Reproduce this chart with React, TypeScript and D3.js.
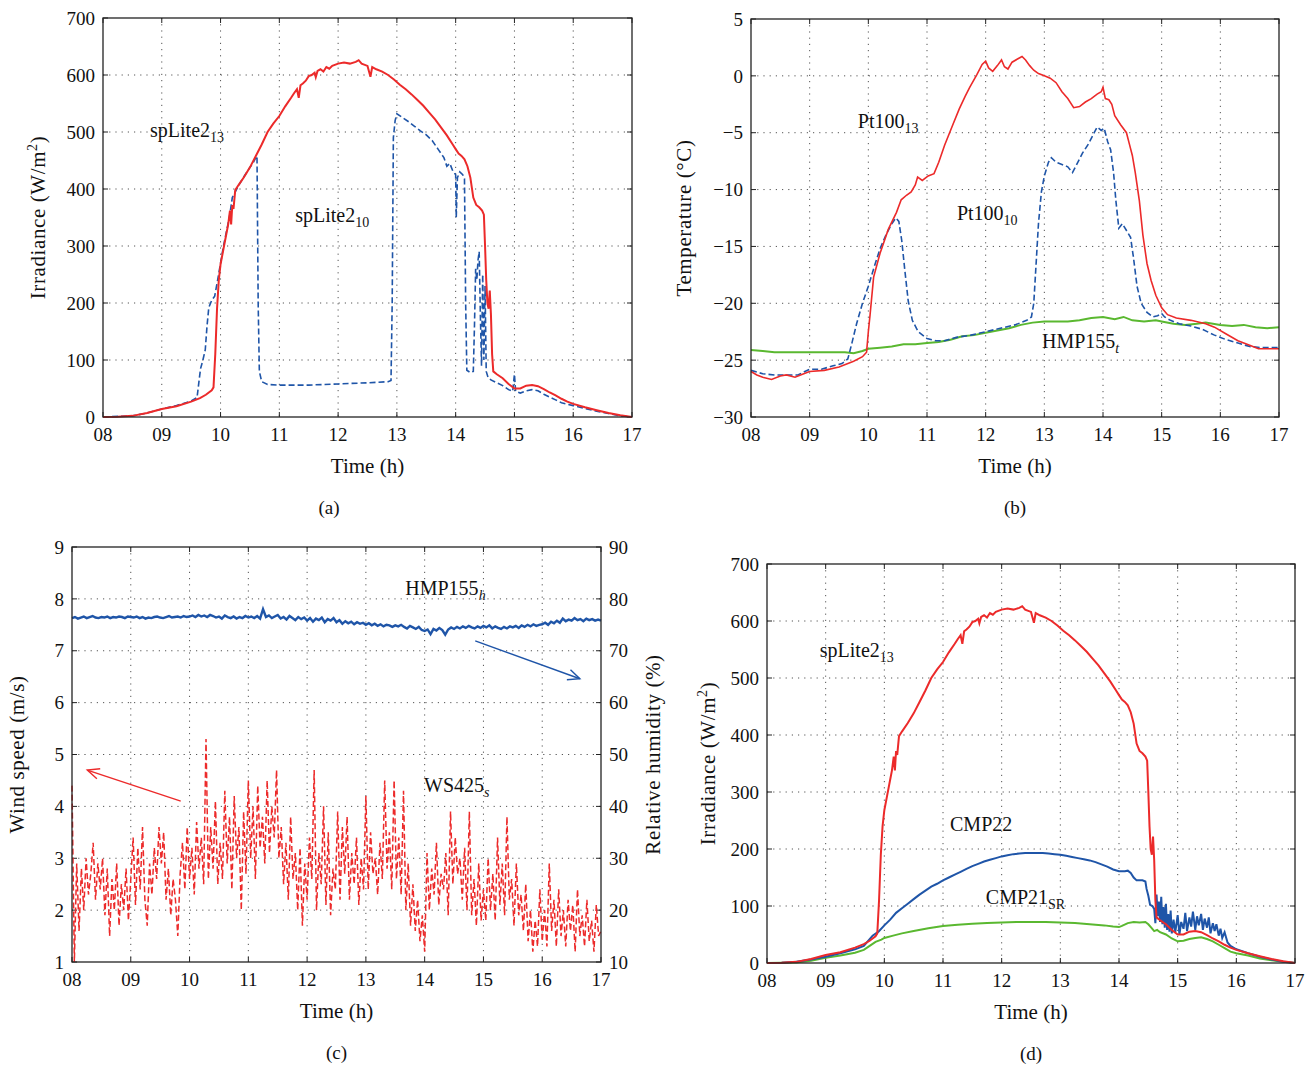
import React from 'react';
import * as d3 from 'd3';

type Pt = [number, number];

// time axis (h)
const HOURS = [8, 9, 10, 11, 12, 13, 14, 15, 16, 17];
const HOUR_LABELS = ['08', '09', '10', '11', '12', '13', '14', '15', '16', '17'];
const IRR_TICKS = [0, 100, 200, 300, 400, 500, 600, 700];
const TEMP_TICKS = [-30, -25, -20, -15, -10, -5, 0, 5];
const WIND_TICKS = [1, 2, 3, 4, 5, 6, 7, 8, 9];
const RH_TICKS = [10, 20, 30, 40, 50, 60, 70, 80, 90];

// (a) + (d) spLite2 at 13 (W/m2)
const spLite13: Pt[] = [
  [8.0, 0], [8.25, 0.5], [8.5, 2], [8.75, 7], [9.0, 14], [9.25, 19], [9.5, 27], [9.65, 33], [9.75, 39],
  [9.85, 47], [9.88, 52], [9.91, 110], [9.94, 190], [9.97, 240], [10.0, 268], [10.05, 295], [10.1, 322],
  [10.13, 338], [10.16, 362], [10.18, 338], [10.2, 372], [10.22, 365], [10.25, 398], [10.3, 406],
  [10.4, 421], [10.5, 438], [10.6, 458], [10.7, 478], [10.8, 500], [10.9, 515], [11.0, 528], [11.1, 545],
  [11.2, 560], [11.25, 568], [11.3, 575], [11.33, 560], [11.36, 582], [11.4, 585], [11.45, 590],
  [11.5, 598], [11.55, 600], [11.6, 604], [11.62, 596], [11.65, 607], [11.7, 610], [11.75, 606],
  [11.8, 614], [11.85, 611], [11.9, 616], [12.0, 620], [12.1, 622], [12.2, 620], [12.3, 623], [12.35, 626],
  [12.4, 620], [12.5, 616], [12.55, 597], [12.58, 614], [12.65, 610], [12.75, 606], [12.85, 600],
  [12.95, 592], [13.05, 583], [13.15, 575], [13.25, 566], [13.35, 556], [13.45, 546], [13.55, 534],
  [13.65, 522], [13.75, 508], [13.85, 494], [13.95, 478], [14.0, 470], [14.05, 462], [14.1, 458],
  [14.15, 452], [14.2, 440], [14.25, 420], [14.3, 385], [14.35, 372], [14.4, 368], [14.45, 362],
  [14.48, 355], [14.5, 300], [14.52, 240], [14.54, 200], [14.56, 190], [14.58, 222], [14.6, 180],
  [14.62, 110], [14.64, 80], [14.7, 75], [14.8, 68], [14.9, 58], [15.0, 50], [15.1, 50], [15.2, 55],
  [15.3, 56], [15.4, 54], [15.5, 49], [15.6, 43], [15.7, 38], [15.8, 32], [15.9, 27], [16.0, 23],
  [16.2, 17], [16.4, 12], [16.6, 7], [16.8, 3], [17.0, 0],
];

// (a) spLite2 at 10 (W/m2)
const spLite10: Pt[] = [
  [8.0, 0], [8.5, 2], [8.75, 7], [9.0, 14], [9.25, 20], [9.5, 28], [9.6, 34], [9.63, 60], [9.66, 85],
  [9.7, 100], [9.74, 118], [9.77, 160], [9.8, 192], [9.85, 205], [9.9, 212], [9.95, 240], [10.0, 270],
  [10.05, 300], [10.1, 325], [10.15, 350], [10.2, 385], [10.3, 405], [10.4, 422], [10.5, 438],
  [10.55, 445], [10.6, 455], [10.62, 458], [10.64, 200], [10.66, 80], [10.7, 62], [10.8, 57], [11.0, 56],
  [11.5, 56], [12.0, 58], [12.5, 60], [12.85, 62], [12.9, 64], [12.92, 200], [12.94, 490], [12.97, 520],
  [13.0, 532], [13.1, 525], [13.2, 518], [13.3, 510], [13.4, 502], [13.5, 495], [13.6, 485], [13.7, 470],
  [13.8, 455], [13.85, 440], [13.9, 445], [13.95, 432], [14.0, 425], [14.01, 350], [14.03, 420],
  [14.07, 430], [14.12, 425], [14.15, 418], [14.17, 200], [14.19, 82], [14.25, 78], [14.3, 80],
  [14.32, 160], [14.34, 260], [14.36, 240], [14.38, 275], [14.4, 290], [14.42, 180], [14.44, 90],
  [14.46, 250], [14.48, 100], [14.5, 230], [14.52, 80], [14.55, 70], [14.6, 65], [14.7, 60], [14.8, 55],
  [14.9, 48], [14.97, 45], [15.0, 75], [15.02, 45], [15.1, 42], [15.2, 46], [15.3, 48], [15.4, 46],
  [15.5, 40], [15.6, 35], [15.7, 30], [15.8, 25], [16.0, 20], [16.2, 15], [16.4, 10], [16.6, 6],
  [16.8, 2], [17.0, 0],
];

// (b) temperatures (deg C)
const pt100_13: Pt[] = [
  [8.0, -26.0], [8.1, -26.3], [8.2, -26.5], [8.35, -26.7], [8.5, -26.4], [8.6, -26.3], [8.75, -26.5],
  [8.9, -26.2], [9.0, -26.0], [9.25, -25.9], [9.5, -25.6], [9.75, -25.1], [9.9, -24.7], [9.97, -24.3],
  [10.0, -22.5], [10.03, -21.0], [10.09, -17.7], [10.2, -15.6], [10.34, -13.5], [10.48, -12.0],
  [10.56, -10.9], [10.65, -10.5], [10.73, -10.2], [10.8, -9.6], [10.84, -8.9], [10.92, -9.2],
  [11.02, -8.8], [11.12, -8.6], [11.2, -7.6], [11.3, -6.1], [11.44, -4.3], [11.55, -2.9], [11.65, -1.8],
  [11.73, -1.0], [11.85, 0.1], [11.94, 1.0], [12.0, 1.3], [12.05, 0.7], [12.12, 0.4], [12.2, 0.9],
  [12.27, 1.4], [12.32, 0.8], [12.38, 0.6], [12.45, 1.2], [12.55, 1.5], [12.62, 1.7], [12.68, 1.4],
  [12.75, 0.9], [12.82, 0.5], [12.9, 0.2], [13.0, 0.0], [13.1, -0.2], [13.2, -0.6], [13.3, -1.4],
  [13.4, -2.0], [13.5, -2.8], [13.6, -2.7], [13.7, -2.3], [13.8, -2.0], [13.9, -1.6], [13.97, -1.4],
  [14.0, -1.0], [14.04, -2.0], [14.1, -2.1], [14.15, -2.5], [14.2, -3.5], [14.3, -4.3], [14.4, -5.0],
  [14.45, -6.0], [14.5, -7.0], [14.55, -8.5], [14.62, -11.0], [14.68, -14.0], [14.75, -16.5],
  [14.82, -18.0], [14.9, -19.3], [15.0, -20.4], [15.1, -21.0], [15.25, -21.3], [15.5, -21.5],
  [15.75, -21.8], [15.9, -22.1], [16.1, -22.7], [16.3, -23.3], [16.5, -23.7], [16.65, -24.0],
  [16.8, -24.0], [17.0, -24.0],
];

const pt100_10: Pt[] = [
  [8.0, -25.9], [8.2, -26.2], [8.4, -26.3], [8.6, -26.3], [8.8, -26.3], [9.0, -25.8], [9.2, -25.8],
  [9.4, -25.5], [9.55, -25.3], [9.65, -24.9], [9.72, -23.5], [9.8, -21.8], [9.9, -20.0], [10.0, -18.5],
  [10.1, -16.8], [10.2, -15.2], [10.3, -14.0], [10.4, -13.0], [10.47, -12.5], [10.52, -12.8],
  [10.57, -14.5], [10.62, -17.0], [10.68, -19.8], [10.75, -21.5], [10.85, -22.5], [11.0, -23.1],
  [11.15, -23.3], [11.3, -23.3], [11.5, -23.0], [11.75, -22.8], [12.0, -22.5], [12.25, -22.2],
  [12.5, -21.9], [12.7, -21.5], [12.78, -21.2], [12.82, -20.0], [12.86, -16.5], [12.9, -13.0],
  [12.95, -10.2], [13.0, -8.8], [13.07, -7.6], [13.12, -7.2], [13.2, -7.6], [13.3, -7.8], [13.4, -8.0],
  [13.48, -8.5], [13.55, -7.8], [13.65, -6.8], [13.75, -6.0], [13.85, -5.0], [13.9, -4.5], [13.97, -4.8],
  [14.02, -4.6], [14.08, -5.8], [14.13, -6.5], [14.18, -8.5], [14.22, -11.0], [14.27, -13.4],
  [14.33, -13.0], [14.4, -13.6], [14.47, -14.2], [14.52, -16.0], [14.58, -18.5], [14.65, -20.0],
  [14.75, -20.8], [14.85, -21.2], [14.93, -21.1], [15.0, -20.9], [15.05, -21.2], [15.15, -21.5],
  [15.3, -21.8], [15.5, -22.0], [15.7, -22.3], [15.9, -22.8], [16.1, -23.2], [16.3, -23.5],
  [16.5, -23.8], [16.7, -23.9], [17.0, -23.9],
];

const hmp155t: Pt[] = [
  [8.0, -24.1], [8.2, -24.2], [8.4, -24.3], [8.6, -24.3], [8.8, -24.3], [9.0, -24.3], [9.2, -24.3],
  [9.4, -24.3], [9.6, -24.3], [9.75, -24.4], [9.9, -24.2], [10.0, -24.0], [10.2, -23.9], [10.4, -23.8],
  [10.6, -23.6], [10.8, -23.6], [11.0, -23.5], [11.2, -23.4], [11.4, -23.2], [11.6, -22.9],
  [11.8, -22.8], [12.0, -22.6], [12.2, -22.4], [12.4, -22.2], [12.6, -21.9], [12.8, -21.7],
  [13.0, -21.6], [13.2, -21.6], [13.4, -21.6], [13.6, -21.5], [13.8, -21.3], [14.0, -21.2],
  [14.2, -21.4], [14.35, -21.2], [14.5, -21.5], [14.7, -21.6], [14.9, -21.5], [15.0, -21.6],
  [15.2, -21.8], [15.4, -21.9], [15.6, -21.8], [15.75, -21.7], [16.0, -21.9], [16.2, -22.0],
  [16.4, -21.9], [16.6, -22.1], [16.8, -22.2], [17.0, -22.1],
];

// (c) wind speed (m/s), sampled every 0.04 h from 08:00
const WIND_START = 8;
const WIND_STEP = 0.04;
const ws425: number[] = [
  4.4, 1.0, 2.9, 1.6, 2.8, 2.0, 3.0, 2.3, 2.7, 3.3, 2.2, 2.9, 2.4, 3.0, 1.9, 2.8, 1.5, 2.6, 2.0, 2.9, 1.7, 2.5, 2.0, 2.8, 1.8,
  2.6, 3.4, 2.1, 3.2, 2.4, 3.6, 2.2, 1.7, 2.9, 2.3, 3.2, 2.6, 3.6, 2.9, 3.5, 2.2, 2.8, 1.9, 2.6, 2.2, 1.5, 2.7, 3.3, 2.4, 3.6,
  2.6, 3.2, 2.3, 3.7, 2.8, 3.4, 2.5, 5.3, 2.6, 3.6, 2.8, 4.1, 2.5, 3.3, 2.6, 4.3, 2.9, 3.8, 2.4, 4.2, 3.0, 3.6, 2.0, 3.9, 2.7,
  4.5, 3.0, 4.0, 2.6, 4.4, 3.2, 3.8, 2.9, 4.5, 3.1, 4.0, 3.4, 4.7, 3.0, 3.6, 2.5, 3.3, 2.2, 3.8, 2.6, 3.1, 2.0, 3.2, 1.7, 2.9,
  2.2, 3.4, 2.6, 4.7, 2.0, 3.1, 2.5, 4.0, 2.1, 3.5, 1.9, 2.8, 2.4, 3.9, 2.2, 3.6, 2.7, 3.8, 2.2, 3.1, 2.5, 3.4, 2.1, 3.0, 2.4,
  4.2, 2.4, 3.5, 2.7, 3.0, 2.3, 3.3, 2.6, 4.5, 2.8, 3.5, 2.4, 4.5, 2.6, 3.4, 2.3, 4.3, 2.0, 2.9, 1.7, 2.5, 1.6, 2.2, 1.4, 1.9,
  1.2, 3.1, 2.0, 2.8, 2.3, 3.3, 2.1, 2.7, 2.4, 3.1, 1.9, 3.9, 2.5, 3.4, 2.7, 3.0, 2.2, 3.2, 2.0, 3.9, 1.9, 2.6, 1.7, 2.9, 1.8,
  2.4, 1.8, 3.0, 2.0, 2.7, 1.8, 3.4, 2.1, 2.9, 1.9, 3.8, 2.2, 2.6, 1.7, 2.9, 1.9, 2.3, 1.6, 2.5, 1.4, 2.0, 1.2, 1.8, 1.3, 2.4,
  1.4, 2.0, 1.3, 2.9, 1.6, 2.2, 1.3, 2.4, 1.5, 2.0, 1.3, 2.2, 1.6, 2.1, 1.2, 2.4, 1.5, 1.9, 1.3, 2.2, 1.4, 1.8, 1.2, 2.1, 1.5,
  1.6,
];

// (c) relative humidity (%), sampled every 0.05 h from 08:00
const RH_START = 8;
const RH_STEP = 0.05;
const hmp155h: number[] = [
  76.3, 76.5, 76.2, 76.4, 76.6, 76.3, 76.5, 76.7, 76.4, 76.3, 76.5, 76.4, 76.6, 76.3, 76.5, 76.4, 76.6, 76.5, 76.3, 76.6,
  76.5, 76.4, 76.6, 76.3, 76.5, 76.2, 76.4, 76.3, 76.5, 76.6, 76.4, 76.3, 76.5, 76.7, 76.4, 76.5, 76.6, 76.4, 76.7, 76.5,
  76.6, 76.8, 76.5, 76.9, 76.6, 76.8, 76.5, 76.9, 76.7, 76.4, 76.6, 76.2, 76.8, 76.5, 76.3, 76.6, 76.2, 76.5, 76.3, 76.7,
  76.4, 76.6, 76.3, 76.7, 76.2, 78.0, 76.5, 76.8, 76.3, 76.6, 76.9, 76.2, 76.5, 76.0, 76.7, 76.3, 75.9, 76.5, 76.1, 76.4,
  75.8, 76.3, 75.6, 76.2, 75.9, 76.4, 75.5, 76.1, 75.8, 76.3, 75.5, 75.9, 75.2, 75.7, 75.3, 75.6, 75.1, 75.5, 75.2, 75.4,
  75.0, 75.3, 74.9, 75.2, 74.8, 75.1, 74.7, 75.0, 74.9, 74.6, 74.9, 74.7, 75.0, 74.6, 74.3, 74.8, 74.5, 74.2, 74.6, 74.0,
  73.8, 74.1, 73.2, 74.2, 73.9, 74.4, 74.0, 73.1, 74.1, 74.5, 74.2, 74.6, 74.3, 74.7, 74.4, 74.8, 74.5, 74.3, 74.7, 74.4,
  74.8, 74.5, 74.9, 74.3, 74.7, 74.4, 74.2, 74.6, 74.3, 74.7, 74.5, 74.8, 74.4, 74.9, 74.6, 75.0, 74.7, 75.1, 74.8, 75.0,
  75.1, 75.4, 75.0, 75.6, 75.3, 75.8, 75.4, 76.2, 75.7, 76.0, 75.8, 76.3, 75.9, 76.1, 75.7, 76.2, 75.9, 76.1, 75.8, 76.0,
  75.8,
];

// (d) CMP22 and CMP21 SR (W/m2)
const cmp22: Pt[] = [
  [8.0, 0], [8.25, 0.5], [8.5, 2], [8.75, 6], [9.0, 11], [9.25, 17], [9.5, 24], [9.65, 30], [9.75, 42],
  [9.8, 48], [9.9, 55], [10.0, 66], [10.1, 76], [10.2, 88], [10.3, 96], [10.4, 104], [10.5, 112],
  [10.6, 120], [10.7, 127], [10.8, 134], [10.9, 139], [11.0, 145], [11.1, 150], [11.2, 155], [11.3, 160],
  [11.4, 165], [11.5, 170], [11.6, 174], [11.7, 178], [11.8, 181], [11.9, 184], [12.0, 187], [12.1, 189],
  [12.2, 191], [12.3, 192], [12.4, 193], [12.5, 193], [12.6, 193], [12.7, 193], [12.8, 192], [12.9, 191],
  [13.0, 190], [13.1, 188], [13.2, 186], [13.3, 184], [13.4, 182], [13.5, 180], [13.6, 177], [13.7, 173],
  [13.8, 169], [13.9, 164], [14.0, 161], [14.1, 161], [14.15, 162], [14.2, 158], [14.25, 150],
  [14.3, 145], [14.4, 145], [14.45, 143], [14.47, 130], [14.5, 118], [14.53, 102], [14.57, 100],
  [14.6, 95], [14.62, 70], [14.64, 120], [14.66, 82], [14.68, 108], [14.7, 72], [14.72, 116], [14.74, 68],
  [14.76, 98], [14.78, 62], [14.8, 104], [14.82, 58], [14.84, 86], [14.86, 55], [14.88, 92], [14.9, 52],
  [14.93, 76], [14.96, 54], [15.0, 84], [15.03, 50], [15.06, 72], [15.1, 60], [15.13, 88], [15.16, 56],
  [15.2, 80], [15.23, 64], [15.26, 90], [15.3, 58], [15.33, 82], [15.36, 66], [15.4, 86], [15.43, 58],
  [15.46, 78], [15.5, 62], [15.53, 80], [15.56, 52], [15.6, 70], [15.63, 56], [15.66, 68], [15.7, 48],
  [15.73, 60], [15.76, 44], [15.8, 54], [15.85, 36], [15.9, 30], [16.0, 24], [16.2, 17], [16.4, 11],
  [16.6, 6], [16.8, 2], [17.0, 0],
];

const cmp21: Pt[] = [
  [8.0, 0], [8.25, 0.3], [8.5, 1], [8.75, 4], [9.0, 9], [9.25, 13], [9.5, 18], [9.65, 23], [9.75, 30],
  [9.85, 37], [9.95, 41], [10.0, 44], [10.15, 48], [10.3, 52], [10.5, 56], [10.75, 61], [11.0, 65],
  [11.25, 67], [11.5, 69], [11.75, 70], [12.0, 71], [12.25, 72], [12.5, 72], [12.75, 72], [13.0, 71],
  [13.25, 70], [13.5, 68], [13.75, 66], [13.9, 64], [14.0, 63], [14.05, 65], [14.15, 70], [14.25, 72],
  [14.35, 71], [14.45, 72], [14.5, 68], [14.55, 62], [14.6, 56], [14.65, 58], [14.7, 54], [14.8, 50],
  [14.9, 43], [15.0, 38], [15.1, 39], [15.2, 42], [15.3, 44], [15.4, 45], [15.5, 42], [15.6, 38],
  [15.7, 32], [15.8, 26], [15.9, 20], [16.0, 17], [16.2, 13], [16.4, 8], [16.6, 5], [16.8, 2], [17.0, 0],
];

const RED = '#ec2a2a';
const BLUE = '#1f55a8';
const GREEN = '#5ab830';
const FONT = '"Liberation Serif", "Times New Roman", serif';

type Box = { left: number; right: number; top: number; bottom: number };

const boxA: Box = { left: 103, right: 632, top: 18, bottom: 417 };
const boxB: Box = { left: 751, right: 1279, top: 19, bottom: 417 };
const boxC: Box = { left: 72, right: 601, top: 547, bottom: 962 };
const boxD: Box = { left: 767, right: 1295, top: 564, bottom: 963 };

const timeScale = (b: Box) => d3.scaleLinear().domain([8, 17]).range([b.left, b.right]);

function Frame({ box, x, y, ticks, y2, ticks2 }: any) {
  const tl = 5;
  const grid = '#555';
  return (
    <g fontFamily={FONT} fontSize={19} fill="#111">
      {HOURS.slice(1, -1).map((h) => (
        <line key={'gx' + h} x1={x(h)} x2={x(h)} y1={box.top} y2={box.bottom}
          stroke={grid} strokeWidth={1} strokeDasharray="1.2,5" />
      ))}
      {ticks.slice(1, -1).map((v: number) => (
        <line key={'gy' + v} x1={box.left} x2={box.right} y1={y(v)} y2={y(v)}
          stroke={grid} strokeWidth={1} strokeDasharray="1.2,5" />
      ))}
      {HOURS.map((h, i) => (
        <g key={'tx' + h}>
          <line x1={x(h)} x2={x(h)} y1={box.bottom} y2={box.bottom - tl} stroke="#222" />
          <line x1={x(h)} x2={x(h)} y1={box.top} y2={box.top + tl} stroke="#222" />
          <text x={x(h)} y={box.bottom + 24} textAnchor="middle">{HOUR_LABELS[i]}</text>
        </g>
      ))}
      {ticks.map((v: number) => (
        <g key={'ty' + v}>
          <line x1={box.left} x2={box.left + tl} y1={y(v)} y2={y(v)} stroke="#222" />
          {!y2 && <line x1={box.right} x2={box.right - tl} y1={y(v)} y2={y(v)} stroke="#222" />}
          <text x={box.left - 8} y={y(v)} dy="0.35em" textAnchor="end">
            {v < 0 ? '\u2212' + Math.abs(v) : v}
          </text>
        </g>
      ))}
      {y2 && ticks2.map((v: number) => (
        <g key={'ty2' + v}>
          <line x1={box.right} x2={box.right - tl} y1={y2(v)} y2={y2(v)} stroke="#222" />
          <text x={box.right + 8} y={y2(v)} dy="0.35em" textAnchor="start">{v}</text>
        </g>
      ))}
    </g>
  );
}

function Border({ box }: { box: Box }) {
  return (
    <rect x={box.left} y={box.top} width={box.right - box.left} height={box.bottom - box.top}
      fill="none" stroke="#222" strokeWidth={1.3} />
  );
}

function Titles({ box, ylabel, cx, caption, capX, ylabel2, cx2 }: any) {
  const midX = (box.left + box.right) / 2;
  const midY = (box.top + box.bottom) / 2;
  return (
    <g fontFamily={FONT} fill="#111">
      <text x={midX} y={box.bottom + 56} textAnchor="middle" fontSize={21}>Time (h)</text>
      <text x={capX ?? midX} y={box.bottom + 97} textAnchor="middle" fontSize={19}>{caption}</text>
      <text transform={`translate(${cx},${midY}) rotate(-90)`} textAnchor="middle" fontSize={21}
        letterSpacing={0.6}>{ylabel}</text>
      {ylabel2 && (
        <text transform={`translate(${cx2},${midY}) rotate(-90)`} textAnchor="middle" fontSize={21}
          letterSpacing={0.6}>{ylabel2}</text>
      )}
    </g>
  );
}

function Label({ x, y, main, sub, italic }: any) {
  return (
    <text x={x} y={y} fontFamily={FONT} fontSize={20} fill="#111">
      {main}
      <tspan dy={5} fontSize={14} fontStyle={italic ? 'italic' : 'normal'}>{sub}</tspan>
    </text>
  );
}

function Arrow({ x1, y1, x2, y2, color }: any) {
  const ang = Math.atan2(y2 - y1, x2 - x1);
  const len = 13;
  const spread = 0.42;
  const p1 = [x2 - len * Math.cos(ang - spread), y2 - len * Math.sin(ang - spread)];
  const p2 = [x2 - len * Math.cos(ang + spread), y2 - len * Math.sin(ang + spread)];
  return (
    <g stroke={color} strokeWidth={1.4} fill="none">
      <line x1={x1} y1={y1} x2={x2} y2={y2} />
      <polyline points={`${p1[0]},${p1[1]} ${x2},${y2} ${p2[0]},${p2[1]}`} />
    </g>
  );
}

const irrUnit = (
  <>
    Irradiance (W/m<tspan dy={-8} fontSize={14}>2</tspan><tspan dy={8}>)</tspan>
  </>
);

export default function App() {
  // (a)
  const xA = timeScale(boxA);
  const yA = d3.scaleLinear().domain([0, 700]).range([boxA.bottom, boxA.top]);
  const lineA = d3.line<Pt>().x((d) => xA(d[0])).y((d) => yA(d[1]));

  // (b)
  const xB = timeScale(boxB);
  const yB = d3.scaleLinear().domain([-30, 5]).range([boxB.bottom, boxB.top]);
  const lineB = d3.line<Pt>().x((d) => xB(d[0])).y((d) => yB(d[1]));

  // (c)
  const xC = timeScale(boxC);
  const yC = d3.scaleLinear().domain([1, 9]).range([boxC.bottom, boxC.top]);
  const yC2 = d3.scaleLinear().domain([10, 90]).range([boxC.bottom, boxC.top]);
  const windLine = d3.line<number>().x((_, i) => xC(WIND_START + i * WIND_STEP)).y((d) => yC(d));
  const rhLine = d3.line<number>().x((_, i) => xC(RH_START + i * RH_STEP)).y((d) => yC2(d));

  // (d)
  const xD = timeScale(boxD);
  const yD = d3.scaleLinear().domain([0, 700]).range([boxD.bottom, boxD.top]);
  const lineD = d3.line<Pt>().x((d) => xD(d[0])).y((d) => yD(d[1]));

  return (
    <div style={{ position: 'absolute', left: 0, top: 0 }}>
      <svg width={1315} height={1068} style={{ display: 'block', background: '#fff' }}>
        {/* (a) */}
        <Frame box={boxA} x={xA} y={yA} ticks={IRR_TICKS} />
        <path d={lineA(spLite10) || ''} fill="none" stroke={BLUE} strokeWidth={1.6} strokeDasharray="6,3" />
        <path d={lineA(spLite13) || ''} fill="none" stroke={RED} strokeWidth={2} />
        <Border box={boxA} />
        <Titles box={boxA} cx={45} ylabel={irrUnit} caption="(a)" capX={329} />
        <Label x={xA(8.8)} y={yA(491)} main="spLite2" sub="13" />
        <Label x={xA(11.27)} y={yA(342)} main="spLite2" sub="10" />

        {/* (b) */}
        <Frame box={boxB} x={xB} y={yB} ticks={TEMP_TICKS} />
        <path d={lineB(hmp155t) || ''} fill="none" stroke={GREEN} strokeWidth={2} />
        <path d={lineB(pt100_10) || ''} fill="none" stroke={BLUE} strokeWidth={1.6} strokeDasharray="6,3" />
        <path d={lineB(pt100_13) || ''} fill="none" stroke={RED} strokeWidth={1.6} />
        <Border box={boxB} />
        <Titles box={boxB} cx={691} ylabel="Temperature (°C)" caption="(b)" />
        <Label x={xB(9.82)} y={yB(-4.59)} main="Pt100" sub="13" />
        <Label x={xB(11.51)} y={yB(-12.68)} main="Pt100" sub="10" />
        <Label x={xB(12.96)} y={yB(-23.94)} main="HMP155" sub="t" italic />

        {/* (c) */}
        <Frame box={boxC} x={xC} y={yC} ticks={WIND_TICKS} y2={yC2} ticks2={RH_TICKS} />
        <path d={rhLine(hmp155h) || ''} fill="none" stroke={BLUE} strokeWidth={2.4} />
        <path d={windLine(ws425) || ''} fill="none" stroke={RED} strokeWidth={1.5} strokeDasharray="6,3" />
        <Border box={boxC} />
        <Titles box={boxC} cx={24} ylabel="Wind speed (m/s)" caption="(c)" ylabel2="Relative humidity (%)" cx2={660} />
        <Label x={xC(13.67)} y={yC(8.07)} main="HMP155" sub="h" italic />
        <Label x={xC(13.99)} y={yC(4.28)} main="WS425" sub="s" italic />
        <Arrow x1={xC(14.86)} y1={yC(7.19)} x2={xC(16.64)} y2={yC(6.46)} color={BLUE} />
        <Arrow x1={xC(9.85)} y1={yC(4.1)} x2={xC(8.26)} y2={yC(4.7)} color={RED} />

        {/* (d) */}
        <Frame box={boxD} x={xD} y={yD} ticks={IRR_TICKS} />
        <path d={lineD(cmp21) || ''} fill="none" stroke={GREEN} strokeWidth={2} />
        <path d={lineD(cmp22) || ''} fill="none" stroke={BLUE} strokeWidth={2} />
        <path d={lineD(spLite13) || ''} fill="none" stroke={RED} strokeWidth={2} />
        <Border box={boxD} />
        <Titles box={boxD} cx={715} ylabel={irrUnit} caption="(d)" />
        <Label x={xD(8.9)} y={yD(537)} main="spLite2" sub="13" />
        <Label x={xD(11.12)} y={yD(232)} main="CMP22" sub="" />
        <Label x={xD(11.73)} y={yD(104)} main="CMP21" sub="SR" />
      </svg>
    </div>
  );
}
